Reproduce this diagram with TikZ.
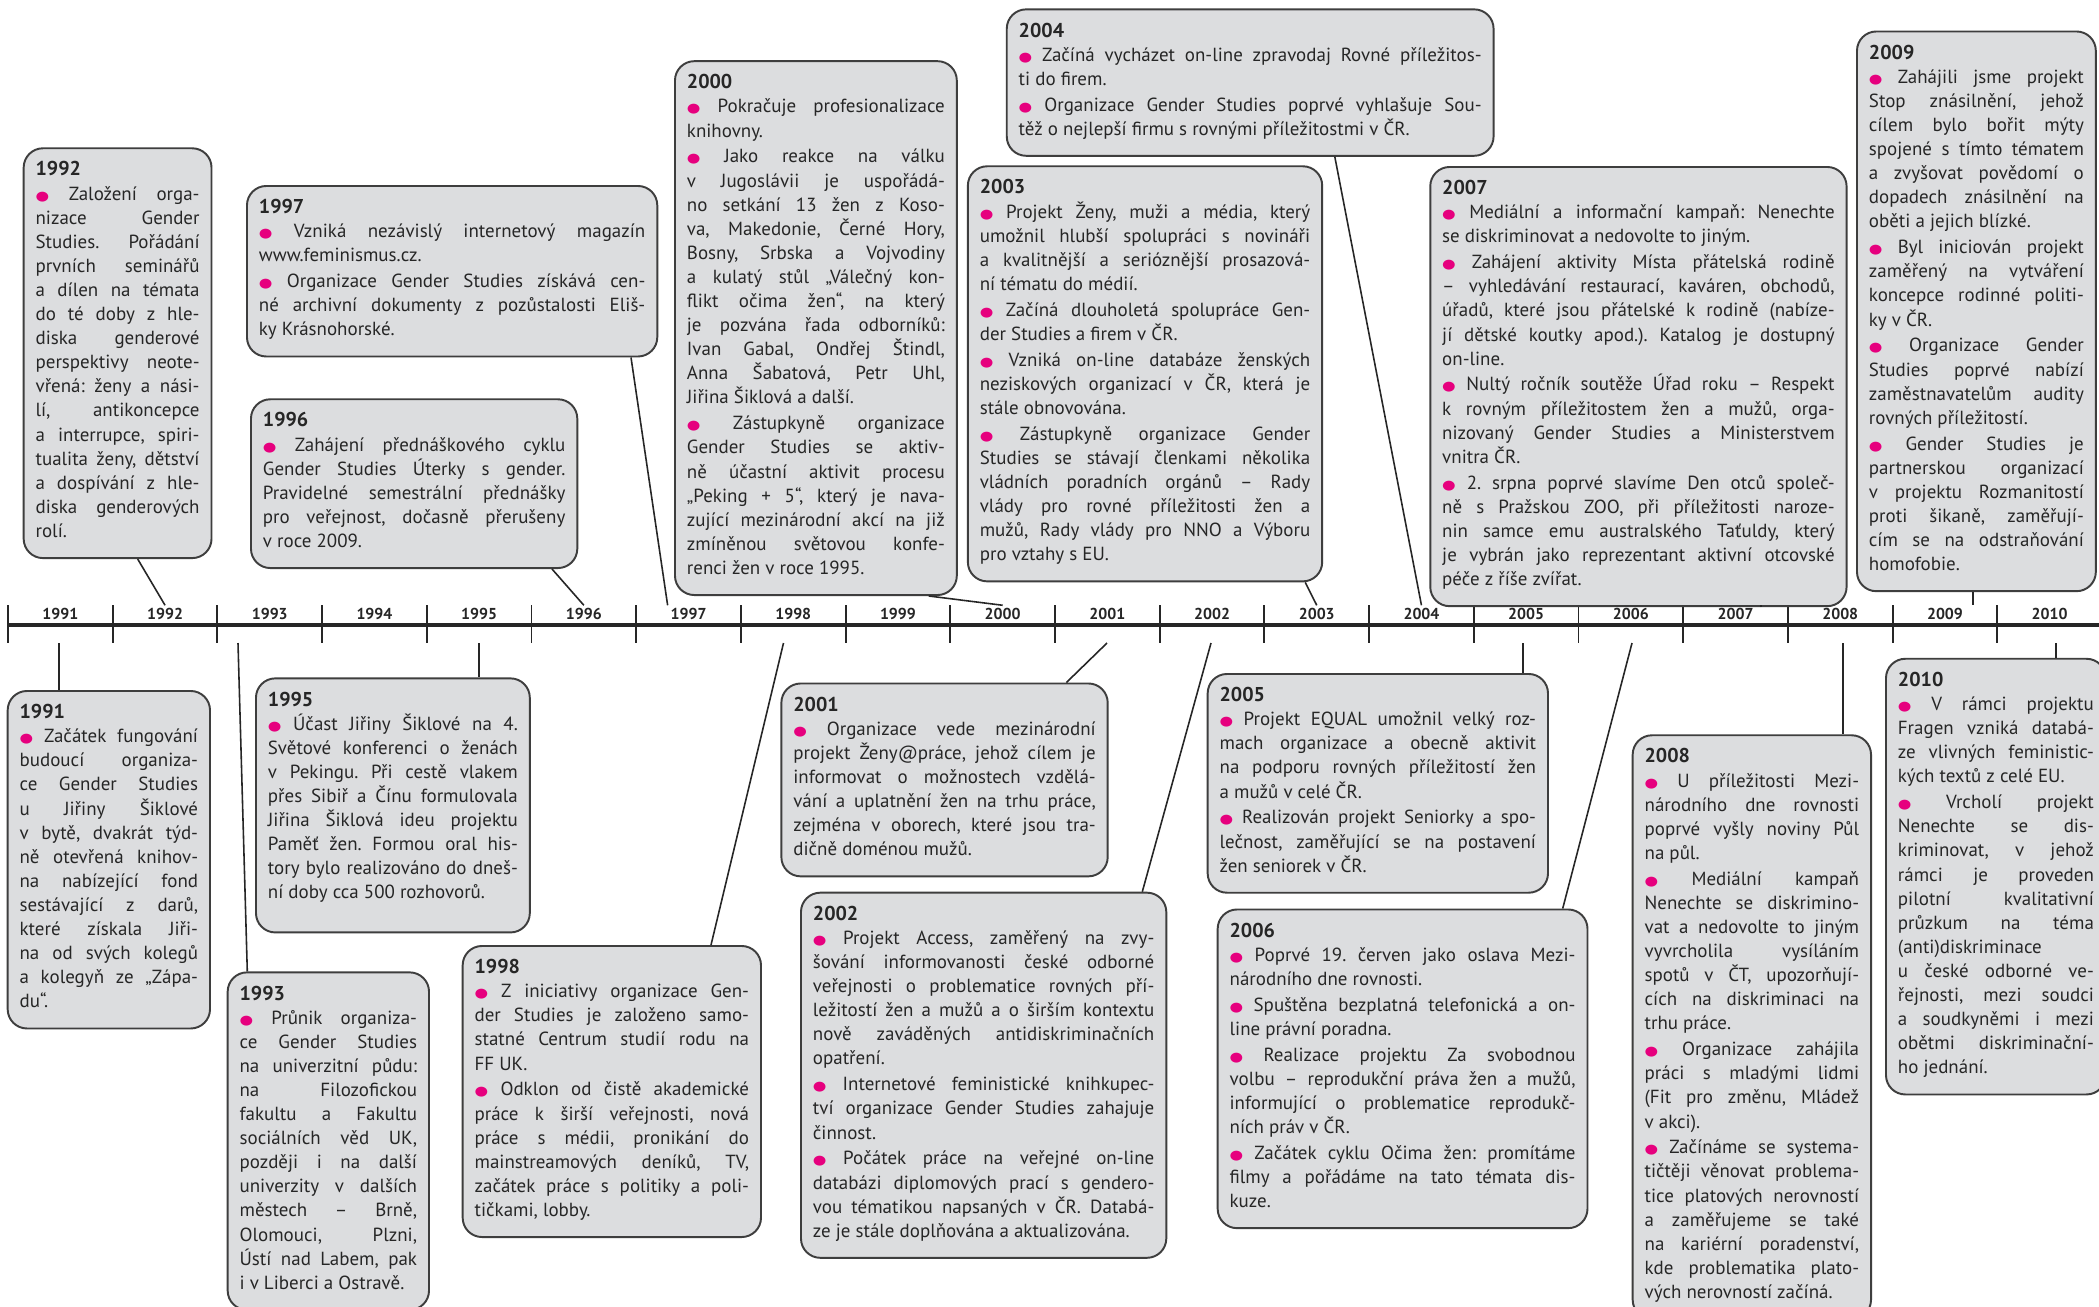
\documentclass[tikz,border=0pt]{standalone}
\usepackage{fontspec}
\setmainfont{PT Sans}
\newfontfamily\dotfont{DejaVu Sans}
\usetikzlibrary{calc}
\definecolor{gsmag}{RGB}{230,0,126}
\definecolor{gsgray}{RGB}{220,221,223}
\definecolor{gsborder}{RGB}{62,62,62}
\definecolor{gstext}{RGB}{38,38,38}
\newcommand{\gsdot}{\textcolor{gsmag}{\scalebox{1.2}[1]{\dotfont\fontsize{7.4}{7.4}\selectfont ●}}}
\newcommand{\brk}{\linebreak}
\newcommand{\yhead}[1]{{\fontsize{11.4}{13.72}\selectfont\bfseries #1}\\}
\newcommand{\boxfont}{\fontsize{10.8}{13.72}\selectfont\parindent=0pt\frenchspacing\tolerance=10000\hyphenpenalty=10000\exhyphenpenalty=10000}

\begin{document}
\begin{tikzpicture}[x=0.02cm, y=0.02cm,
  yearbox/.style={draw=gsborder, fill=gsgray, line width=1.1pt, rounded corners=11pt, anchor=north west, align=justify, inner xsep=6.8pt, inner ysep=7.6pt, execute at end node={\strut}, text=gstext, font=\boxfont},
  yearlabel/.style={font=\fontsize{9}{9}\selectfont\bfseries, text=gstext, inner sep=1.5pt},
  axistick/.style={draw=gstext, line width=1.1pt},
  axisline/.style={draw=gstext, line width=2.4pt},
  link/.style={draw=gstext, line width=0.9pt}]
  \path[use as bounding box, fill=white] (0,0) rectangle (2099,-1306);

  % timeline axis
  \draw[axisline] (8,-625) -- (2099,-625);
  \foreach \lbl [count=\k from 0] in {1991,...,2010} {
    \draw[axistick] ({8+104.7*\k},-605) -- ++(0,-38);
    \node[yearlabel] (lab\lbl) at ({60.35+104.7*\k},-614) {\lbl};
  }

  % boxes above the axis
  \node[yearbox, text width=3.28cm] (box1992) at (22.7,-147.3) {\yhead{1992}
    \gsdot{} Založení orga-\brk nizace Gender\brk Studies. Pořádání\brk prvních seminářů\brk a dílen na témata\brk do té doby z hle-\brk diska genderové\brk perspektivy neote-\brk vřená: ženy a nási-\brk lí, antikoncepce\brk a interrupce, spiri-\brk tualita ženy, dětství\brk a dospívání z hle-\brk diska genderových\brk rolí.};

  \node[yearbox, text width=7.73cm] (box1997) at (246,-185) {\yhead{1997}
    \gsdot{} Vzniká nezávislý internetový magazín\brk www.feminismus.cz.\\[1pt]
    \gsdot{} Organizace Gender Studies získává cen-\brk né archivní dokumenty z pozůstalosti Eliš-\brk ky Krásnohorské.};

  \node[yearbox, text width=6.05cm] (box1996) at (250,-398.3) {\yhead{1996}
    \gsdot{} Zahájení přednáškového cyklu\brk Gender Studies Úterky s gender.\brk Pravidelné semestrální přednášky\brk pro veřejnost, dočasně přerušeny\brk v roce 2009.};

  \node[yearbox, text width=5.16cm] (box2000) at (674,-60.2) {\yhead{2000}
    \gsdot{} Pokračuje profesionalizace\brk knihovny.\\[1pt]
    \gsdot{} Jako reakce na válku\brk v Jugoslávii je uspořádá-\brk no setkání 13 žen z Koso-\brk va, Makedonie, Černé Hory,\brk Bosny, Srbska a Vojvodiny\brk a kulatý stůl „Válečný kon-\brk flikt očima žen“, na který\brk je pozvána řada odborníků:\brk Ivan Gabal, Ondřej Štindl,\brk Anna Šabatová, Petr Uhl,\brk Jiřina Šiklová a další.\\[1pt]
    \gsdot{} Zástupkyně organizace\brk Gender Studies se aktiv-\brk ně účastní aktivit procesu\brk „Peking + 5“, který je nava-\brk zující mezinárodní akcí na již\brk zmíněnou světovou konfe-\brk renci žen v roce 1995.};

  \node[yearbox, text width=9.26cm] (box2004) at (1005.8,-8.4) {\yhead{2004}
    \gsdot{} Začíná vycházet on-line zpravodaj Rovné příležitos-\brk ti do firem.\\[1pt]
    \gsdot{} Organizace Gender Studies poprvé vyhlašuje Sou-\brk těž o nejlepší firmu s rovnými příležitostmi v ČR.};

  \node[yearbox, text width=6.61cm] (box2003) at (966.9,-165.3) {\yhead{2003}
    \gsdot{} Projekt Ženy, muži a média, který\brk umožnil hlubší spolupráci s novináři\brk a kvalitnější a serióznější prosazová-\brk ní tématu do médií.\\[1pt]
    \gsdot{} Začíná dlouholetá spolupráce Gen-\brk der Studies a firem v ČR.\\[1pt]
    \gsdot{} Vzniká on-line databáze ženských\brk neziskových organizací v ČR, která je\brk stále obnovována.\\[1pt]
    \gsdot{} Zástupkyně organizace Gender\brk Studies se stávají členkami několika\brk vládních poradních orgánů – Rady\brk vlády pro rovné příležitosti žen a\brk mužů, Rady vlády pro NNO a Výboru\brk pro vztahy s EU.};

  \node[yearbox, text width=7.85cm] (box2007) at (1429.3,-166) {\yhead{2007}
    \gsdot{} Mediální a informační kampaň: Nenechte\brk se diskriminovat a nedovolte to jiným.\\[1pt]
    \gsdot{} Zahájení aktivity Místa přátelská rodině\brk – vyhledávání restaurací, kaváren, obchodů,\brk úřadů, které jsou přátelské k rodině (nabíze-\brk jí dětské koutky apod.). Katalog je dostupný\brk on-line.\\[1pt]
    \gsdot{} Nultý ročník soutěže Úřad roku – Respekt\brk k rovným příležitostem žen a mužů, orga-\brk nizovaný Gender Studies a Ministerstvem\brk vnitra ČR.\\[1pt]
    \gsdot{} 2. srpna poprvé slavíme Den otců společ-\brk ně s Pražskou ZOO, při příležitosti naroze-\brk nin samce emu australského Taťuldy, který\brk je vybrán jako reprezentant aktivní otcovské\brk péče z říše zvířat.};

  \node[yearbox, text width=4.30cm] (box2009) at (1856,-30.5) {\yhead{2009}
    \gsdot{} Zahájili jsme projekt\brk Stop znásilnění, jehož\brk cílem bylo bořit mýty\brk spojené s tímto tématem\brk a zvyšovat povědomí o\brk dopadech znásilnění na\brk oběti a jejich blízké.\\[1pt]
    \gsdot{} Byl iniciován projekt\brk zaměřený na vytváření\brk koncepce rodinné politi-\brk ky v ČR.\\[1pt]
    \gsdot{} Organizace Gender\brk Studies poprvé nabízí\brk zaměstnavatelům audity\brk rovných příležitostí.\\[1pt]
    \gsdot{} Gender Studies je\brk partnerskou organizací\brk v projektu Rozmanitostí\brk proti šikaně, zaměřují-\brk cím se na odstraňování\brk homofobie.};

  % boxes below the axis
  \node[yearbox, text width=3.57cm] (box1991) at (6.7,-690) {\yhead{1991}
    \gsdot{} Začátek fungování\brk budoucí organiza-\brk ce Gender Studies\brk u Jiřiny Šiklové\brk v bytě, dvakrát týd-\brk ně otevřená knihov-\brk na nabízející fond\brk sestávající z darů,\brk které získala Jiři-\brk na od svých kolegů\brk a kolegyň ze „Zápa-\brk du“.};

  \node[yearbox, text width=5.0cm] (box1995) at (255,-677.4) {\yhead{1995}
    \gsdot{} Účast Jiřiny Šiklové na 4.\brk Světové konferenci o ženách\brk v Pekingu. Při cestě vlakem\brk přes Sibiř a Čínu formulovala\brk Jiřina Šiklová ideu projektu\brk Paměť žen. Formou oral his-\brk tory bylo realizováno do dneš-\brk ní doby cca 500 rozhovorů.\rule[-11.5pt]{0pt}{1pt}};

  \node[yearbox, text width=3.55cm] (box1993) at (226.7,-971.4) {\yhead{1993}
    \gsdot{} Průnik organiza-\brk ce Gender Studies\brk na univerzitní půdu:\brk na Filozofickou\brk fakultu a Fakultu\brk sociálních věd UK,\brk později i na další\brk univerzity v dalších\brk městech – Brně,\brk Olomouci, Plzni,\brk Ústí nad Labem, pak\brk i v Liberci a Ostravě.};

  \node[yearbox, text width=5.49cm] (box1998) at (461.7,-945) {\yhead{1998}
    \gsdot{} Z iniciativy organizace Gen-\brk der Studies je založeno samo-\brk statné Centrum studií rodu na\brk FF UK.\\[1pt]
    \gsdot{} Odklon od čistě akademické\brk práce k širší veřejnosti, nová\brk práce s médii, pronikání do\brk mainstreamových deníků, TV,\brk začátek práce s politiky a poli-\brk tičkami, lobby.};

  \node[yearbox, text width=6.05cm] (box2001) at (780.4,-682.5) {\yhead{2001}
    \gsdot{} Organizace vede mezinárodní\brk projekt Ženy@práce, jehož cílem je\brk informovat o možnostech vzdělá-\brk vání a uplatnění žen na trhu práce,\brk zejména v oborech, které jsou tra-\brk dičně doménou mužů.};

  \node[yearbox, text width=6.83cm] (box2002) at (800,-891.7) {\yhead{2002}
    \gsdot{} Projekt Access, zaměřený na zvy-\brk šování informovanosti české odborné\brk veřejnosti o problematice rovných pří-\brk ležitostí žen a mužů a o širším kontextu\brk nově zaváděných antidiskriminačních\brk opatření.\\[1pt]
    \gsdot{} Internetové feministické knihkupec-\brk tví organizace Gender Studies zahajuje\brk činnost.\\[1pt]
    \gsdot{} Počátek práce na veřejné on-line\brk databázi diplomových prací s gendero-\brk vou tématikou napsaných v ČR. Databá-\brk ze je stále doplňována a aktualizována.};

  \node[yearbox, text width=6.33cm] (box2005) at (1206.7,-673) {\yhead{2005}
    \gsdot{} Projekt EQUAL umožnil velký roz-\brk mach organizace a obecně aktivit\brk na podporu rovných příležitostí žen\brk a mužů v celé ČR.\\[1pt]
    \gsdot{} Realizován projekt Seniorky a spo-\brk lečnost, zaměřující se na postavení\brk žen seniorek v ČR.};

  \node[yearbox, text width=6.92cm] (box2006) at (1216.7,-908.5) {\yhead{2006}
    \gsdot{} Poprvé 19. červen jako oslava Mezi-\brk národního dne rovnosti.\\[1pt]
    \gsdot{} Spuštěna bezplatná telefonická a on-\brk line právní poradna.\\[1pt]
    \gsdot{} Realizace projektu Za svobodnou\brk volbu – reprodukční práva žen a mužů,\brk informující o problematice reprodukč-\brk ních práv v ČR.\\[1pt]
    \gsdot{} Začátek cyklu Očima žen: promítáme\brk filmy a pořádáme na tato témata dis-\brk kuze.};

  \node[yearbox, text width=4.29cm] (box2008) at (1631.7,-734.3) {\yhead{2008}
    \gsdot{} U příležitosti Mezi-\brk národního dne rovnosti\brk poprvé vyšly noviny Půl\brk na půl.\\[1pt]
    \gsdot{} Mediální kampaň\brk Nenechte se diskrimino-\brk vat a nedovolte to jiným\brk vyvrcholila vysíláním\brk spotů v ČT, upozorňují-\brk cích na diskriminaci na\brk trhu práce.\\[1pt]
    \gsdot{} Organizace zahájila\brk práci s mladými lidmi\brk (Fit pro změnu, Mládež\brk v akci).\\[1pt]
    \gsdot{} Začínáme se systema-\brk tičtěji věnovat problema-\brk tice platových nerovností\brk a zaměřujeme se také\brk na kariérní poradenství,\brk kde problematika plato-\brk vých nerovností začíná.};

  \node[yearbox, text width=3.92cm] (box2010) at (1885,-657.8) {\yhead{2010}
    \gsdot{} V rámci projektu\brk Fragen vzniká databá-\brk ze vlivných feministic-\brk kých textů z celé EU.\\[1pt]
    \gsdot{} Vrcholí projekt\brk Nenechte se dis-\brk kriminovat, v jehož\brk rámci je proveden\brk pilotní kvalitativní\brk průzkum na téma\brk (anti)diskriminace\brk u české odborné ve-\brk řejnosti, mezi soudci\brk a soudkyněmi i mezi\brk obětmi diskriminační-\brk ho jednání.};

  % connectors
  \coordinate (a2007) at (1761,-605);
  \coordinate (a2009) at (1973,-605);
  \coordinate (a1991) at (59,-643);
  \coordinate (a1993) at (238,-643);
  \coordinate (a1995) at (479,-643);
  \coordinate (a1998) at (783.5,-643);
  \coordinate (a2001) at (1107,-643);
  \coordinate (a2002) at (1211,-643);
  \coordinate (a2005) at (1523,-643);
  \coordinate (a2006) at (1632,-643);
  \coordinate (a2008) at (1843,-643);
  \coordinate (a2010) at (2056,-643);

  \draw[link] ($(box1992.south west)+(115,0)$) -- (lab1992.north);
  \draw[link] ($(box1996.south west)+(302,0)$) -- (lab1996.north);
  \draw[link] ($(box1997.south west)+(385,0)$) -- (lab1997.north west);
  \draw[link] ($(box2000.south east)+(-29,0)$) -- (lab2000.north);
  \draw[link] ($(box2003.south east)+(-18,0)$) -- (lab2003.north);
  \draw[link] ($(box2004.south west)+(329,0)$) -- (lab2004.north);
  \draw[link] (a2007 |- box2007.south) -- (a2007);
  \draw[link] (a2009 |- box2009.south) -- (a2009);

  \draw[link] (a1991) -- (a1991 |- box1991.north);
  \draw[link] (a1993) -- ($(box1993.north west)+(20.6,0)$);
  \draw[link] (a1995) -- (a1995 |- box1995.north);
  \draw[link] (a1998) -- ($(box1998.north west)+(249.3,0)$);
  \draw[link] (a2001) -- ($(box2001.north west)+(286,0)$);
  \draw[link] (a2002) -- ($(box2002.north west)+(342.3,0)$);
  \draw[link] (a2005) -- (a2005 |- box2005.north);
  \draw[link] (a2006) -- ($(box2006.north west)+(346,0)$);
  \draw[link] (a2008) -- (a2008 |- box2008.north);
  \draw[link] (a2010) -- (a2010 |- box2010.north);
\end{tikzpicture}
\end{document}
